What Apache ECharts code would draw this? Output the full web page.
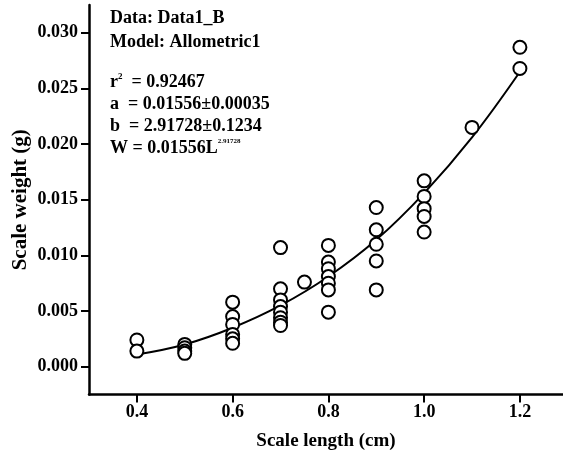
<!DOCTYPE html>
<html>
<head>
<meta charset="utf-8">
<script src="https://cdn.jsdelivr.net/npm/echarts@6/dist/echarts.min.js"></script>
<style>
html,body{margin:0;padding:0;background:#fff;}
#chart{width:563px;height:459px;}
</style>
</head>
<body>
<div id="chart"></div>
<script>
var len04 = [0.0024, 0.0014];
var len05 = [0.0020, 0.0017, 0.0014, 0.0012];
var len06 = [0.0058, 0.0045, 0.0038, 0.0029, 0.0025, 0.0021];
var len07 = [0.0107, 0.0070, 0.0060, 0.0054, 0.0049, 0.0044, 0.0040, 0.0037];
var len075 = [0.0076];
var len08 = [0.0109, 0.0094, 0.0088, 0.0081, 0.0075, 0.0069, 0.0049];
var len09 = [0.0143, 0.0123, 0.0110, 0.0095, 0.0069];
var len10 = [0.0167, 0.0153, 0.0142, 0.0135, 0.0121];
var len11 = [0.0215];
var len12 = [0.0287, 0.0268];
var groupLengths = [0.4, 0.5, 0.6, 0.7, 0.75, 0.8, 0.9, 1.0, 1.1, 1.2];
var groupWeights = [len04, len05, len06, len07, len075, len08, len09, len10, len11, len12];

// Fitted curve
var curveX = [0.4, 0.5, 0.6, 0.7, 0.8, 0.9, 1.0, 1.1, 1.2];
var curveY = [0.0011, 0.0020, 0.0035, 0.0055, 0.0081, 0.0114, 0.0156, 0.0206, 0.0265];

var xTicks = [0.4, 0.6, 0.8, 1.0, 1.2];
var yTicks = [0, 0.005, 0.010, 0.015, 0.020, 0.025, 0.030];

var scatterData = [];
groupLengths.forEach(function (x, i) {
  groupWeights[i].forEach(function (y) { scatterData.push([x, y]); });
});
var curveData = curveX.map(function (x, i) { return [x, curveY[i]]; });

var FONT = "'Liberation Serif','Times New Roman',serif";
var chart = echarts.init(document.getElementById('chart'), null, {renderer: 'canvas'});

var axisCommon = {
  axisLine: {show: true, onZero: false, lineStyle: {color: '#000', width: 2.5}},
  axisTick: {show: true, length: 8, inside: false, lineStyle: {color: '#000', width: 2}},
  splitLine: {show: false}
};

chart.setOption({
  animation: false,
  backgroundColor: '#fff',
  grid: {left: 89, right: 0, top: 5, bottom: 64.5, containLabel: false, outerBoundsMode: 'none'},
  xAxis: Object.assign({}, axisCommon, {
    type: 'value',
    min: 0.3, max: 1.29,
    name: 'Scale length (cm)',
    nameLocation: 'middle',
    nameGap: 37,
    nameMoveOverlap: false,
    nameTextStyle: {color: '#000', fontFamily: FONT, fontWeight: 'bold', fontSize: 19},
    axisTick: Object.assign({}, axisCommon.axisTick, {customValues: xTicks}),
    axisLabel: {
      customValues: xTicks, margin: 9, color: '#000', fontFamily: FONT, fontWeight: 'bold', fontSize: 18,
      formatter: function (v) { return v.toFixed(1); }
    }
  }),
  yAxis: Object.assign({}, axisCommon, {
    type: 'value',
    min: -0.0025, max: 0.0325,
    name: 'Scale weight (g)',
    nameLocation: 'middle',
    nameGap: 58,
    nameMoveOverlap: false,
    nameTextStyle: {color: '#000', fontFamily: FONT, fontWeight: 'bold', fontSize: 21},
    axisTick: Object.assign({}, axisCommon.axisTick, {customValues: yTicks}),
    axisLabel: {
      customValues: yTicks, margin: 11, color: '#000', fontFamily: FONT, fontWeight: 'bold', fontSize: 18,
      formatter: function (v) { return v.toFixed(3); }
    }
  }),
  graphic: [
    {type: 'text', left: 110, top: 9, style: {text: 'Data: Data1_B', font: 'bold 18px ' + FONT, fill: '#000'}},
    {type: 'text', left: 110, top: 33, style: {text: 'Model: Allometric1', font: 'bold 18px ' + FONT, fill: '#000'}},
    {type: 'text', left: 110, top: 72, style: {
      text: '{m|r}{s|2}{m|  = 0.92467}', fill: '#000',
      rich: {m: {fontFamily: FONT, fontWeight: 'bold', fontSize: 18, lineHeight: 21}, s: {fontFamily: FONT, fontWeight: 'bold', fontSize: 9, verticalAlign: 'top', lineHeight: 21, padding: [0, 0, 9, 0]}}
    }},
    {type: 'text', left: 110, top: 95, style: {text: 'a  = 0.01556\u00b10.00035', font: 'bold 18px ' + FONT, fill: '#000'}},
    {type: 'text', left: 110, top: 117, style: {text: 'b  = 2.91728\u00b10.1234', font: 'bold 18px ' + FONT, fill: '#000'}},
    {type: 'text', left: 110, top: 138, style: {
      text: '{m|W = 0.01556L}{s|2.91728}', fill: '#000',
      rich: {m: {fontFamily: FONT, fontWeight: 'bold', fontSize: 18, lineHeight: 21}, s: {fontFamily: FONT, fontWeight: 'bold', fontSize: 7, verticalAlign: 'top', lineHeight: 21, padding: [0, 0, 11, 0]}}
    }}
  ],
  series: [
    {
      type: 'line', data: curveData, smooth: 0.4, showSymbol: false, symbol: 'none', z: 2,
      lineStyle: {color: '#000', width: 2}
    },
    {
      type: 'scatter', data: scatterData, symbol: 'circle', symbolSize: 13, z: 3,
      itemStyle: {color: '#fff', borderColor: '#000', borderWidth: 2, opacity: 1}
    }
  ]
});
</script>
</body>
</html>
